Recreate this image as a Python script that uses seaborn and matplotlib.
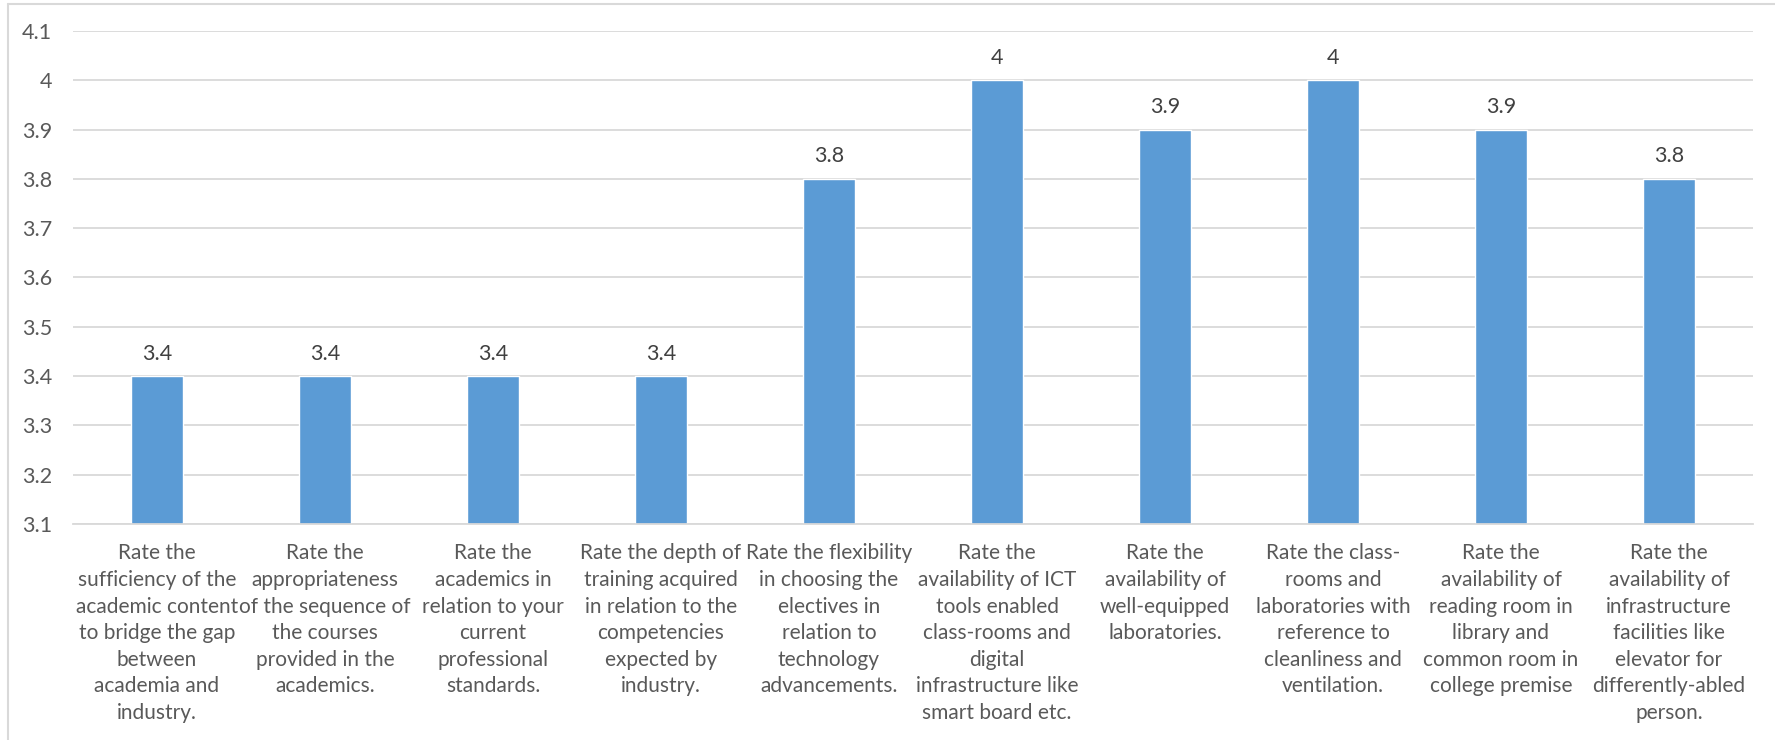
import numpy as np
import pandas as pd

import matplotlib.pyplot as plt
from matplotlib.lines import Line2D
import seaborn as sns

sns.set_theme(style='white')
plt.rcParams['font.family'] = ['Lato', 'DejaVu Sans']

# -----------------------------------------------------------------------------
# survey ratings
# -----------------------------------------------------------------------------
questions = [
    'Rate the\nsufficiency of the\nacademic content\nto bridge the gap\nbetween\nacademia and\nindustry.',
    'Rate the\nappropriateness\nof the sequence of\nthe courses\nprovided in the\nacademics.',
    'Rate the\nacademics in\nrelation to your\ncurrent\nprofessional\nstandards.',
    'Rate the depth of\ntraining acquired\nin relation to the\ncompetencies\nexpected by\nindustry.',
    'Rate the flexibility\nin choosing the\nelectives in\nrelation to\ntechnology\nadvancements.',
    'Rate the\navailability of ICT\ntools enabled\nclass-rooms and\ndigital\ninfrastructure like\nsmart board etc.',
    'Rate the\navailability of\nwell-equipped\nlaboratories.',
    'Rate the class-\nrooms and\nlaboratories with\nreference to\ncleanliness and\nventilation.',
    'Rate the\navailability of\nreading room in\nlibrary and\ncommon room in\ncollege premise',
    'Rate the\navailability of\ninfrastructure\nfacilities like\nelevator for\ndifferently-abled\nperson.',
]
ratings = [3.4, 3.4, 3.4, 3.4, 3.8, 4.0, 3.9, 4.0, 3.9, 3.8]
y_ticks = [3.1, 3.2, 3.3, 3.4, 3.5, 3.6, 3.7, 3.8, 3.9, 4.0, 4.1]
y_tick_labels = ['3.1', '3.2', '3.3', '3.4', '3.5', '3.6', '3.7', '3.8', '3.9', '4', '4.1']

df = pd.DataFrame({'Question': questions, 'Rating': ratings})

# -----------------------------------------------------------------------------
# plot
# -----------------------------------------------------------------------------
fig = plt.figure(figsize=(17.75, 7.4), dpi=100)
ax = fig.add_axes([73/1775, 1 - 524/740, (1753 - 73)/1775, (524 - 31)/740])

sns.barplot(data=df, x='Question', y='Rating', color='#5B9BD5', saturation=1,
            width=0.31, ax=ax, zorder=2)

ax.set_ylim(3.1, 4.1)
ax.set_yticks(y_ticks, y_tick_labels)
ax.yaxis.grid(True, color='#D9D9D9', linewidth=1.3, zorder=0)
ax.set_axisbelow(True)
ax.set_xlabel('')
ax.set_ylabel('')
for side in ['top', 'right', 'left']:
    ax.spines[side].set_visible(False)
ax.spines['bottom'].set_color('#D9D9D9')
ax.spines['bottom'].set_linewidth(1.3)
ax.tick_params(axis='y', length=0, pad=15, labelsize=15.5, labelcolor='#595959')
ax.tick_params(axis='x', length=0, pad=14, labelsize=15, labelcolor='#595959')
for lab in ax.get_xticklabels():
    lab.set_linespacing(1.41)
    lab.set_verticalalignment('top')

for i, v in enumerate(ratings):
    ax.annotate(f'{v:g}', (i, v), xytext=(0, 9), textcoords='offset points',
                ha='center', va='bottom', fontsize=15.5, color='#404040')

# chart frame (cropped on the right and bottom)
fig.add_artist(Line2D([8/1775, 8/1775], [0, 1 - 4/740], color='#D9D9D9', linewidth=1.5,
                      transform=fig.transFigure))
fig.add_artist(Line2D([8/1775, 1], [1 - 4/740, 1 - 4/740], color='#D9D9D9', linewidth=1.5,
                      transform=fig.transFigure))

fig.savefig('out.png', dpi=100)
plt.close('all')
